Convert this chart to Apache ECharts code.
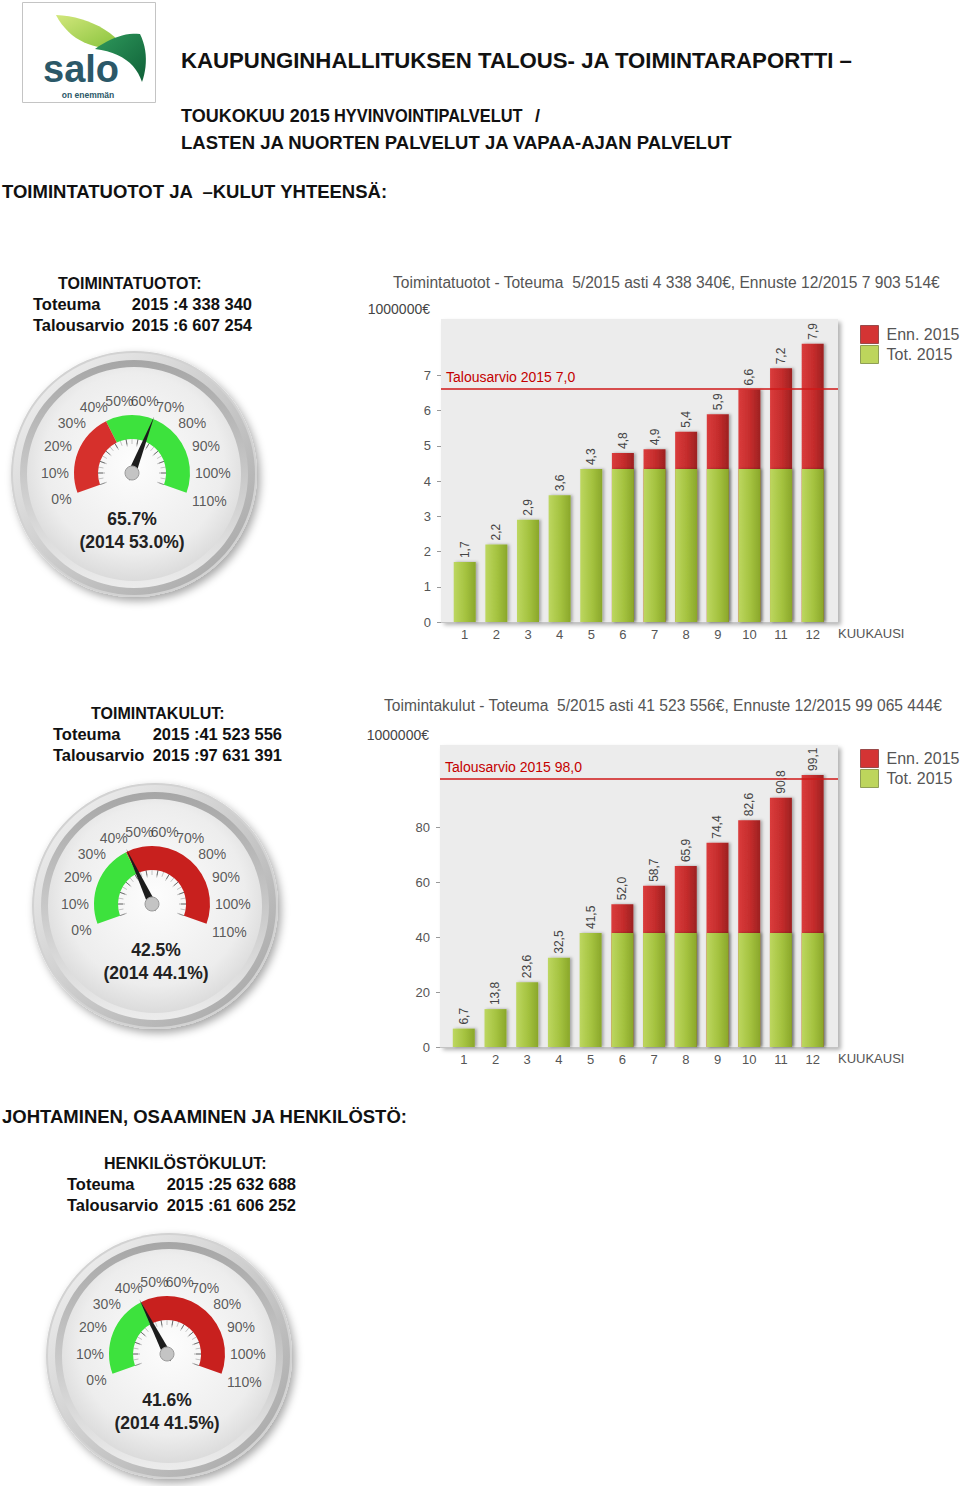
<!DOCTYPE html>
<html><head><meta charset="utf-8">
<script src="https://cdn.jsdelivr.net/npm/echarts@6/dist/echarts.min.js"></script>
<style>html,body{margin:0;padding:0;background:#fff}#c{width:960px;height:1486px}</style>
</head><body><div id="c"></div>
<script>
// ---------- data ----------
const months = [1, 2, 3, 4, 5, 6, 7, 8, 9, 10, 11, 12];
const tuototActual   = [1.7, 2.2, 2.9, 3.6, 4.34, 4.34, 4.34, 4.34, 4.34, 4.34, 4.34, 4.34];
const tuototForecast = ['-','-','-','-','-', 4.8, 4.9, 5.4, 5.9, 6.6, 7.2, 7.9];
const tuototBudget = 6.61;
const tuototBudgetLabel = 'Talousarvio 2015 7,0';
const tuototTicks = [0, 1, 2, 3, 4, 5, 6, 7];
const tuototTitle = 'Toimintatuotot - Toteuma  5/2015 asti 4 338 340€, Ennuste 12/2015 7 903 514€';

const kulutActual   = [6.7, 13.8, 23.6, 32.5, 41.52, 41.52, 41.52, 41.52, 41.52, 41.52, 41.52, 41.52];
const kulutForecast = ['-','-','-','-','-', 52.0, 58.7, 65.9, 74.4, 82.6, 90.8, 99.1];
const kulutBudget = 97.63;
const kulutBudgetLabel = 'Talousarvio 2015 98,0';
const kulutTicks = [0, 20, 40, 60, 80];
const kulutTitle = 'Toimintakulut - Toteuma  5/2015 asti 41 523 556€, Ennuste 12/2015 99 065 444€';

const seriesNames = ['Enn. 2015', 'Tot. 2015'];
const unitLabel = '1000000€';
const xName = 'KUUKAUSI';

const gaugeNames    = ['TOIMINTATUOTOT:', 'TOIMINTAKULUT:', 'HENKILÖSTÖKULUT:'];
const gaugeToteuma  = ['2015 :4 338 340', '2015 :41 523 556', '2015 :25 632 688'];
const gaugeBudget   = ['2015 :6 607 254', '2015 :97 631 391', '2015 :61 606 252'];
const gaugeValues   = [65.7, 42.5, 41.6];
const gaugePrev     = [53.0, 44.1, 41.5];
const gaugeSplit    = 41.7;            // 5/12 of the year
const gaugeTicks    = [0,10,20,30,40,50,60,70,80,90,100,110];

// ---------- layout ----------
const FONT = '"Liberation Sans", Arial, sans-serif';
const gauges = [
  {c:[132,473], bez:[134,474], head:{x:58, y:283, l:33, r:252}, low:'#d6302c', high:'#3de23d', dx:0},
  {c:[152,904], bez:[155,906], head:{x:91, y:713, l:53, r:282}, low:'#3de23d', high:'#c8201e', dx:4},
  {c:[167,1354], bez:[169,1356], head:{x:104, y:1163, l:67, r:296}, low:'#3de23d', high:'#c8201e', dx:0}
];
const fmt = v => Number(v).toFixed(1).replace('.', ',');

const G = echarts.graphic;
const redGrad = () => new G.LinearGradient(0,0,1,0,[{offset:0,color:'#da3c3c'},{offset:0.55,color:'#c42c2c'},{offset:1,color:'#9c2121'}]);
const greenGrad = () => new G.LinearGradient(0,0,1,0,[{offset:0,color:'#bdd760'},{offset:0.55,color:'#a4c23f'},{offset:1,color:'#8aa72a'}]);

// cubic bezier outline sampler for the logo leaves (decoration only)
function bezierOutline(start, segs) {
  const pts = [start];
  let p0 = start;
  segs.forEach(([c1, c2, p3]) => {
    for (let k = 1; k <= 12; k++) {
      const t = k / 12, u = 1 - t;
      pts.push([
        u*u*u*p0[0] + 3*u*u*t*c1[0] + 3*u*t*t*c2[0] + t*t*t*p3[0],
        u*u*u*p0[1] + 3*u*u*t*c1[1] + 3*u*t*t*c2[1] + t*t*t*p3[1]
      ]);
    }
    p0 = p3;
  });
  return pts;
}

const graphics = [];
// logo
graphics.push({type:'rect', shape:{x:22.5,y:2.5,width:133,height:100}, style:{fill:'#fff', stroke:'#c4c4c4', lineWidth:1}});
graphics.push({type:'polygon', shape:{points:bezierOutline([56,15], [
    [[82,16],[108,27],[122,45]], [[108,52],[86,46],[72,35]], [[64,28],[59,21],[56,15]] ])},
  style:{fill:new G.LinearGradient(0,0,1,1,[{offset:0,color:'#d2e77c'},{offset:1,color:'#86c23a'}])}});
graphics.push({type:'polygon', shape:{points:bezierOutline([95,49], [
    [[110,38],[127,32],[140,34]], [[148,50],[147,68],[142,82]], [[136,64],[121,52],[95,49]] ])},
  style:{fill:new G.LinearGradient(0,0,1,1,[{offset:0,color:'#2f9a5c'},{offset:1,color:'#0f6038'}])}});
graphics.push({type:'text', x:43, y:69, style:{text:'salo', font:'bold 38px ' + FONT, fill:'#2b5868', align:'left', verticalAlign:'middle'}});
graphics.push({type:'text', x:88, y:95, style:{text:'on enemmän', font:'bold 8.5px ' + FONT, fill:'#2b5868', align:'center', verticalAlign:'middle'}});

// headings
const H = (text, x, y, size, extra) => graphics.push(Object.assign({type:'text', x, y,
  style:{text, font:'bold ' + size + 'px ' + FONT, fill:'#111', align:'left', verticalAlign:'middle'}}, extra || {}));
H('KAUPUNGINHALLITUKSEN TALOUS- JA TOIMINTARAPORTTI –', 181, 60, 22.2);
H('TOUKOKUU 2015', 181, 116, 18);
H('HYVINVOINTIPALVELUT', 334, 116, 18, {scaleX:0.91, originX:0, originY:0});
H('/', 535, 116, 18);
H('LASTEN JA NUORTEN PALVELUT JA VAPAA-AJAN PALVELUT', 181, 142, 18.5);
H('TOIMINTATUOTOT JA  –KULUT YHTEENSÄ:', 2, 191, 18.5);
H('JOHTAMINEN, OSAAMINEN JA HENKILÖSTÖ:', 2, 1116, 18.5);

// gauge bezels + headers
gauges.forEach((g, i) => {
  const [bx, by] = g.bez;
  graphics.push({type:'circle', shape:{cx:bx, cy:by, r:123}, style:{fill:'#d2d2d2', shadowBlur:8, shadowOffsetX:3, shadowOffsetY:4, shadowColor:'rgba(0,0,0,0.35)'}});
  graphics.push({type:'circle', shape:{cx:bx, cy:by, r:121}, style:{fill:new G.LinearGradient(0,0,1,1,[{offset:0,color:'#f6f6f6'},{offset:1,color:'#a2a2a2'}])}});
  graphics.push({type:'circle', shape:{cx:bx, cy:by, r:114}, style:{fill:new G.LinearGradient(0,0,0,1,[{offset:0,color:'#a6a6a6'},{offset:0.5,color:'#c8c8c8'},{offset:1,color:'#ececec'}])}});
  graphics.push({type:'circle', shape:{cx:bx, cy:by, r:107}, style:{fill:new G.RadialGradient(0.5,0.45,0.6,[{offset:0,color:'#fdfdfd'},{offset:0.7,color:'#ededed'},{offset:1,color:'#d4d4d4'}])}});
  const h = g.head;
  graphics.push({type:'text', x:h.x, y:h.y, style:{text:gaugeNames[i], font:'bold 16px ' + FONT, fill:'#111', align:'left', verticalAlign:'middle'}});
  graphics.push({type:'text', x:h.l, y:h.y+21, style:{text:'Toteuma', font:'bold 16.5px ' + FONT, fill:'#111', align:'left', verticalAlign:'middle'}});
  graphics.push({type:'text', x:h.r, y:h.y+21, style:{text:gaugeToteuma[i], font:'bold 16.5px ' + FONT, fill:'#111', align:'right', verticalAlign:'middle'}});
  graphics.push({type:'text', x:h.l, y:h.y+42, style:{text:'Talousarvio', font:'bold 16.5px ' + FONT, fill:'#111', align:'left', verticalAlign:'middle'}});
  graphics.push({type:'text', x:h.r, y:h.y+42, style:{text:gaugeBudget[i], font:'bold 16.5px ' + FONT, fill:'#111', align:'right', verticalAlign:'middle'}});
});

// ---------- bar charts ----------
const grids = [
  {left:441, top:319, width:397, height:303, backgroundColor:'#ececec', show:true, borderWidth:0,
   shadowBlur:4, shadowColor:'rgba(0,0,0,0.3)', shadowOffsetX:3, shadowOffsetY:3},
  {left:440, top:745, width:398, height:302, backgroundColor:'#ececec', show:true, borderWidth:0,
   shadowBlur:4, shadowColor:'rgba(0,0,0,0.3)', shadowOffsetX:3, shadowOffsetY:3}
];
const xAxes = [0,1].map(i => ({
  type:'value', gridIndex:i, min:0.25, max:12.8,
  splitLine:{show:false},
  axisLine:{show:true, onZero:false, lineStyle:{color:'#c4c4c4', width:1}}, axisTick:{show:false},
  axisLabel:{color:'#555', fontSize:13, fontFamily:FONT, margin:6, customValues:months},
  name:xName, nameLocation:'end', nameGap:0,
  nameTextStyle:{color:'#555', fontSize:13, fontFamily:FONT, align:'left', verticalAlign:'top', padding:[5,0,0,0]}
}));
const yAxisBase = (i, max, interval, ticks) => ({
  type:'value', gridIndex:i, min:0, max, interval,
  splitLine:{show:false}, axisLine:{show:false},
  axisTick:{show:true, length:4, lineStyle:{color:'#999'}, customValues:ticks},
  axisLabel:{color:'#555', fontSize:13, fontFamily:FONT, margin:10, customValues:ticks,
    formatter: v => ticks.indexOf(v) >= 0 ? String(v) : ''},
  name:unitLabel, nameLocation:'end', nameGap:3,
  nameTextStyle:{color:'#444', fontSize:14, fontFamily:FONT, align:'right', verticalAlign:'bottom', padding:[0,11,0,0]}
});
const yAxes = [yAxisBase(0, 8.6, 1, tuototTicks), yAxisBase(1, 110, 20, kulutTicks)];

const barLabel = {show:true, position:'top', rotate:90, align:'left', verticalAlign:'middle', distance:4,
  color:'#444', fontSize:12, fontFamily:FONT};
function barSeries(i, actual, forecast, budget, budgetLabel) {
  const fData = months.map((m, k) => [m, forecast[k]]).filter(d => d[1] !== '-');
  const aData = months.map((m, k) => [m, actual[k]]);
  return [
    {name:seriesNames[0], type:'bar', xAxisIndex:i, yAxisIndex:i, data:fData, barWidth:22, barGap:'-100%',
     itemStyle:{color:redGrad(), shadowBlur:3, shadowColor:'rgba(0,0,0,0.3)', shadowOffsetX:2},
     label:Object.assign({}, barLabel, {formatter: p => fmt(p.value[1])}), silent:true, animation:false},
    {name:seriesNames[1], type:'bar', xAxisIndex:i, yAxisIndex:i, data:aData, barWidth:22, barGap:'-100%',
     itemStyle:{color:greenGrad(), shadowBlur:3, shadowColor:'rgba(0,0,0,0.3)', shadowOffsetX:2},
     label:Object.assign({}, barLabel, {formatter: p => forecast[p.dataIndex] === '-' ? fmt(p.value[1]) : ''}),
     silent:true, animation:false,
     markLine:{silent:true, symbol:'none', animation:false,
       lineStyle:{color:'#d01818', width:1.5, type:'solid'},
       label:{show:true, position:'insideStartTop', formatter:budgetLabel, color:'#c40000', fontSize:14, fontFamily:FONT},
       data:[{yAxis:budget}]}}
  ];
}

const legends = [
  {top:325, left:860}, {top:749, left:860}
].map(p => ({orient:'vertical', left:p.left, top:p.top, padding:0, itemWidth:18, itemHeight:18, itemGap:1, icon:'rect',
  selectedMode:false,
  textStyle:{color:'#555', fontSize:16, fontFamily:FONT, padding:[0,0,0,3]},
  data:[{name:seriesNames[0], itemStyle:{color:'#d43434', borderColor:'#9a4a4a', borderWidth:1}},
        {name:seriesNames[1], itemStyle:{color:'#bdd55c', borderColor:'#8f9f55', borderWidth:1}}]}));

const titles = [
  {text:tuototTitle, left:393, top:274, fs:15.6},
  {text:kulutTitle, left:384, top:697, fs:15.6}
].map(t => ({text:t.text, left:t.left, top:t.top, padding:0,
  textStyle:{color:'#555', fontSize:t.fs, fontWeight:'normal', fontFamily:FONT}}));

// ---------- gauges ----------
// polar systems (radius unit = 1px) carrying the percentage tick labels around each dial
const LABEL_FS = 14;
const labelRadius = t => {
  const a = (200 - t * 2) * Math.PI / 180;                 // same scale as the gauge: 2° per %
  const txt = t + '%';
  const w = (txt.length - 1) * 0.556 * LABEL_FS + 0.889 * LABEL_FS;
  return 63 + Math.abs(Math.cos(a)) * w / 2 + Math.abs(Math.sin(a)) * 7.5;
};
const polars = gauges.map(g => ({center:g.c, radius:100}));
const angleAxes = gauges.map((g, i) => ({polarIndex:i, type:'value', startAngle:200, clockwise:true, min:0, max:180, show:false}));
const radiusAxes = gauges.map((g, i) => ({polarIndex:i, type:'value', show:false, min:0, max:100}));
const gaugeLabelSeries = gauges.map((g, i) => ({
  type:'scatter', coordinateSystem:'polar', polarIndex:i, symbol:'circle', symbolSize:1,
  itemStyle:{color:'rgba(0,0,0,0)'}, silent:true, animation:false,
  label:{show:true, position:'inside', color:'#333', fontSize:LABEL_FS, fontFamily:FONT,
    formatter: p => p.value[1] + '%'},
  data:gaugeTicks.map(t => [labelRadius(t), t])
}));

const gaugeSeries = gauges.map((g, i) => ({
  type:'gauge', center:g.c, radius:58, startAngle:200, endAngle:-20, min:0, max:110, splitNumber:11,
  animation:false, silent:true,
  axisLine:{lineStyle:{width:24, color:[[gaugeSplit/110, g.low], [1, g.high]]}},
  axisTick:{show:true, splitNumber:2, distance:0, length:5, lineStyle:{color:'rgba(0,0,0,0.22)', width:1}},
  splitLine:{show:true, distance:0, length:7, lineStyle:{color:'rgba(0,0,0,0.28)', width:1}},
  axisLabel:{show:false},
  pointer:{show:true, length:61, width:4, itemStyle:{color:'#1c1c1c'}},
  anchor:{show:true, size:14, showAbove:true,
    itemStyle:{color:'#c4c4c4', borderColor:'#9a9a9a', borderWidth:1}},
  title:{show:false},
  detail:{show:true, offsetCenter:[g.dx, 57], valueAnimation:false,
    formatter: v => '{a|' + v.toFixed(1) + '%}\n{b|(2014 ' + gaugePrev[i].toFixed(1) + '%)}',
    rich:{a:{fontSize:17.5, fontWeight:'bold', color:'#222', fontFamily:FONT, lineHeight:23},
          b:{fontSize:17.5, fontWeight:'bold', color:'#222', fontFamily:FONT, lineHeight:23}}},
  data:[{value:gaugeValues[i]}]
}));

const chart = echarts.init(document.getElementById('c'), null, {renderer:'svg', width:960, height:1486});
chart.setOption({
  backgroundColor:'#fff',
  animation:false,
  textStyle:{fontFamily:FONT},
  title:titles,
  legend:legends,
  grid:grids,
  xAxis:xAxes,
  yAxis:yAxes,
  polar:polars,
  angleAxis:angleAxes,
  radiusAxis:radiusAxes,
  graphic:{elements:graphics},
  series:[].concat(
    barSeries(0, tuototActual, tuototForecast, tuototBudget, tuototBudgetLabel),
    barSeries(1, kulutActual, kulutForecast, kulutBudget, kulutBudgetLabel),
    gaugeSeries,
    gaugeLabelSeries
  )
});
</script></body></html>
